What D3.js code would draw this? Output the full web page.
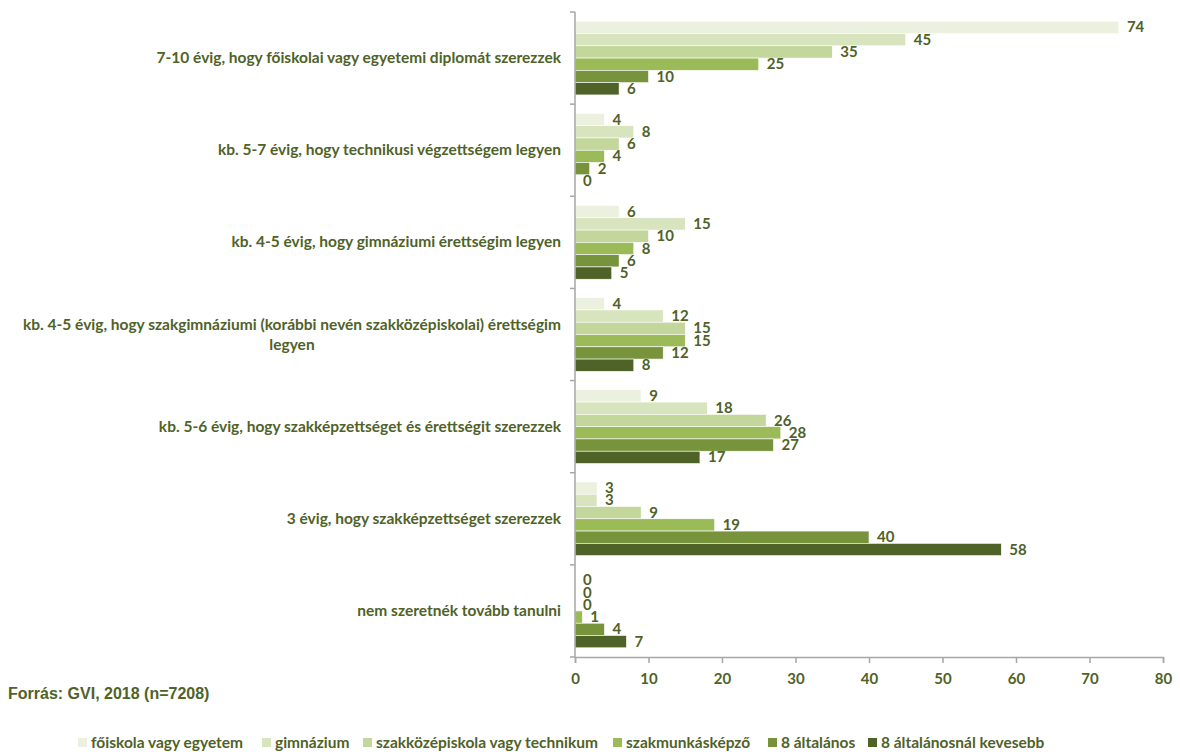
<!DOCTYPE html>
<html>
  <head>
    <meta charset="utf-8">
    <script src="https://d3js.org/d3.v7.min.js"></script>
    <title>Továbbtanulási tervek</title>
    <style>
      body { margin: 0px; background: #fff; }
      .cat-label, .val-label, .tick text, .legend text {
        fill: #4f6228;
        font-family: Lato, sans-serif;
        font-weight: bold;
      }
      .source {
        fill: #4f6228;
        font-family: 'Liberation Sans', Arial, sans-serif;
        font-weight: bold;
        font-size: 16px;
      }
    </style>
  </head>
  <body>
    <svg width="1180" height="752"></svg>
    <script>
      const categories = [
        '7-10 évig, hogy főiskolai vagy egyetemi diplomát szerezzek',
        'kb. 5-7 évig, hogy technikusi végzettségem legyen',
        'kb. 4-5 évig, hogy gimnáziumi érettségim legyen',
        'kb. 4-5 évig, hogy szakgimnáziumi (korábbi nevén szakközépiskolai) érettségim legyen',
        'kb. 5-6 évig, hogy szakképzettséget és érettségit szerezzek',
        '3 évig, hogy szakképzettséget szerezzek',
        'nem szeretnék tovább tanulni'
      ];
      const seriesNames = [
        'főiskola vagy egyetem',
        'gimnázium',
        'szakközépiskola vagy technikum',
        'szakmunkásképző',
        '8 általános',
        '8 általánosnál kevesebb'
      ];
      // one array per series, in category order
      const foiskola   = [74, 4, 6, 4, 9, 3, 0];
      const gimnazium  = [45, 8, 15, 12, 18, 3, 0];
      const szakkozep  = [35, 6, 10, 15, 26, 9, 0];
      const szakmunkas = [25, 4, 8, 15, 28, 19, 1];
      const altalanos  = [10, 2, 6, 12, 27, 40, 4];
      const kevesebb   = [6, 0, 5, 8, 17, 58, 7];
      const xTicks = [0, 10, 20, 30, 40, 50, 60, 70, 80];
      const colors = ['#ebf1de', '#d7e4bd', '#c3d69b', '#9bbb59', '#77933c', '#4f6228'];

      const seriesValues = [foiskola, gimnazium, szakkozep, szakmunkas, altalanos, kevesebb];

      const margin = { left: 575, right: 17, top: 12, bottom: 95 };
      const svg = d3.select('svg');
      const width = +svg.attr('width');
      const height = +svg.attr('height');
      const plotBottom = height - margin.bottom;

      // absolute coordinates, no wrapping group
      const xScale = d3.scaleLinear().domain([0, 80]).range([margin.left, width - margin.right]);
      const yScale = d3.scaleBand().domain(categories).range([margin.top, plotBottom])
        .paddingInner(0.2).paddingOuter(0.1);
      const ySub = d3.scaleBand().domain(d3.range(seriesNames.length))
        .range([0, yScale.bandwidth()]);

      // bars + value labels
      categories.forEach((c, ci) => {
        seriesValues.forEach((vals, si) => {
          const y = yScale(c) + ySub(si);
          svg.append('rect')
            .attr('x', xScale(0))
            .attr('y', y)
            .attr('width', xScale(vals[ci]) - xScale(0))
            .attr('height', ySub.bandwidth())
            .attr('fill', colors[si])
            .attr('stroke', '#fff')
            .attr('stroke-width', 0.6);
          svg.append('text')
            .attr('class', 'val-label')
            .attr('x', xScale(vals[ci]) + 8)
            .attr('y', y + ySub.bandwidth() / 2 + 5)
            .style('font-size', '15px')
            .text(vals[ci]);
        });
      });

      // y axis line with group separators
      const step = (plotBottom - margin.top) / categories.length;
      svg.append('line')
        .attr('x1', xScale(0)).attr('x2', xScale(0))
        .attr('y1', margin.top).attr('y2', plotBottom)
        .attr('stroke', '#a6a6a6').attr('stroke-width', 1.5);
      d3.range(categories.length + 1).forEach(i => {
        svg.append('line')
          .attr('x1', xScale(0) - 5).attr('x2', xScale(0))
          .attr('y1', margin.top + i * step).attr('y2', margin.top + i * step)
          .attr('stroke', '#a6a6a6').attr('stroke-width', 1.5);
      });

      // x axis
      const xAxis = d3.axisBottom(xScale).tickValues(xTicks).tickSize(6).tickPadding(10);
      const xAxisG = svg.append('g')
        .attr('transform', `translate(0,${plotBottom})`)
        .call(xAxis);
      xAxisG.select('.domain').attr('stroke', '#a6a6a6').attr('stroke-width', 1.5);
      xAxisG.selectAll('.tick line').attr('stroke', '#a6a6a6').attr('stroke-width', 1.5);
      xAxisG.selectAll('.tick text').style('font-size', '15px');

      // category labels, right aligned, wrapped lines centred in their block
      const maxW = 545;
      const labelRight = xScale(0) - 14;
      categories.forEach(c => {
        const cy = yScale(c) + yScale.bandwidth() / 2;
        const t = svg.append('text')
          .attr('class', 'cat-label')
          .style('font-size', '15.5px');
        const words = c.split(' ');
        let lines = [];
        let cur = [];
        const probe = t.append('tspan');
        words.forEach(w => {
          probe.text(cur.concat(w).join(' '));
          if (probe.node().getComputedTextLength() > maxW && cur.length) {
            lines.push(cur.join(' '));
            cur = [w];
          } else {
            cur.push(w);
          }
        });
        lines.push(cur.join(' '));
        probe.remove();
        const widths = lines.map(l => {
          const s = t.append('tspan').text(l);
          const w = s.node().getComputedTextLength();
          s.remove();
          return w;
        });
        const blockW = d3.max(widths);
        const lineH = 20;
        const y0 = cy - (lines.length - 1) * lineH / 2 + 5;
        lines.forEach((l, i) => {
          t.append('tspan')
            .attr('x', labelRight - blockW / 2)
            .attr('y', y0 + i * lineH)
            .attr('text-anchor', 'middle')
            .text(l);
        });
      });

      // source note
      svg.append('text')
        .attr('class', 'source')
        .attr('x', 8)
        .attr('y', 699)
        .text('Forrás: GVI, 2018 (n=7208)');

      // legend
      const legendX = [78, 262, 363, 613, 768, 868];
      const legend = svg.append('g').attr('class', 'legend');
      seriesNames.forEach((n, i) => {
        legend.append('rect')
          .attr('x', legendX[i]).attr('y', 738)
          .attr('width', 9).attr('height', 9)
          .attr('fill', colors[i]);
        legend.append('text')
          .attr('x', legendX[i] + 13).attr('y', 748)
          .style('font-size', '15.5px')
          .text(n);
      });
    </script>
  </body>
</html>
